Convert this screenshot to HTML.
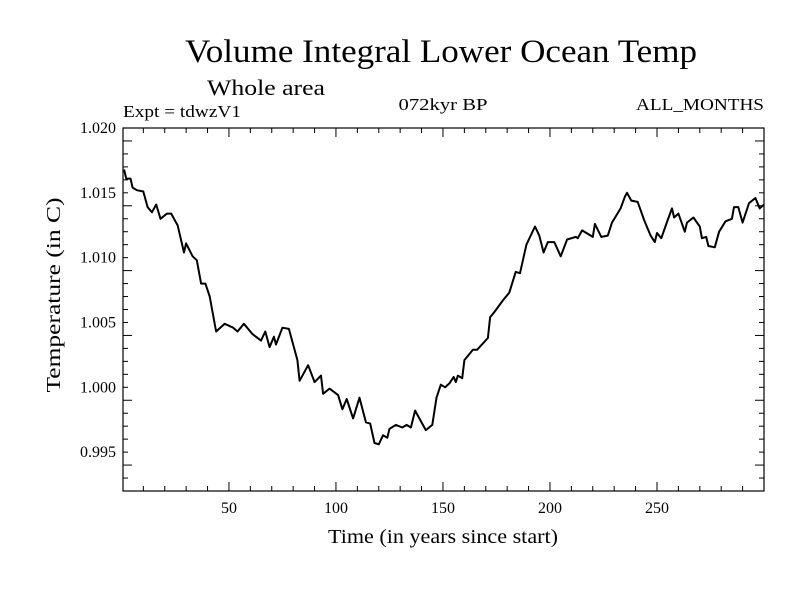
<!DOCTYPE html>
<html><head><meta charset="utf-8"><style>
body{margin:0;background:#fff}
svg text{font-family:"Liberation Serif",serif;fill:#000}
</style></head><body>
<svg id="c" width="800" height="600" xmlns="http://www.w3.org/2000/svg">
<text x="441" y="62" font-size="33" text-anchor="middle" textLength="512" lengthAdjust="spacingAndGlyphs">Volume Integral Lower Ocean Temp</text>
<text x="207" y="95" font-size="22" textLength="118" lengthAdjust="spacingAndGlyphs">Whole area</text>
<text x="123" y="117" font-size="17" textLength="118" lengthAdjust="spacingAndGlyphs">Expt = tdwzV1</text>
<text x="443" y="110" font-size="17" text-anchor="middle" textLength="89" lengthAdjust="spacingAndGlyphs">072kyr BP</text>
<text x="764" y="110" font-size="17" text-anchor="end" textLength="128" lengthAdjust="spacingAndGlyphs">ALL_MONTHS</text>
<text x="443" y="543" font-size="20" text-anchor="middle" textLength="230" lengthAdjust="spacingAndGlyphs">Time (in years since start)</text>
<text transform="translate(60,295) rotate(-90)" font-size="20" text-anchor="middle" textLength="195" lengthAdjust="spacingAndGlyphs">Temperature (in C)</text>
<g id="ticks"></g>
<rect x="123" y="128" width="641" height="363" fill="none" stroke="#000" stroke-width="1.2"/>
<path id="line" fill="none" stroke="#000" stroke-width="2" stroke-linejoin="round"/>
</svg>
<script>
const years=[1,2,4,5,7,10,12,14,16,18,21,23,25,26,29,30,33,35,37,39,41,44,48,52,54,57,61,65,67,69,71,72,75,78,82,83,87,90,93,94,97,101,103,105,108,111,114,116,118,120,122,124,125,128,131,133,135,137,142,145,147,149,151,153,155,156,157,159,160,164,166,171,172,174,178,181,184,186,189,193,195,197,199,202,205,208,212,213,215,220,221,224,227,229,233,235,236,238,241,244,247,249,250,252,255,257,258,260,263,264,267,270,271,273,274,277,279,282,285,286,288,290,293,296,298,300];
const temps=[1.0168,1.0161,1.0161,1.0154,1.0152,1.0151,1.0139,1.0135,1.0141,1.0130,1.0134,1.0134,1.0128,1.0125,1.0104,1.0111,1.0101,1.0098,1.0080,1.0080,1.0070,1.0043,1.0049,1.0046,1.0043,1.0049,1.0041,1.0036,1.0043,1.0031,1.0039,1.0033,1.0046,1.0045,1.0021,1.0005,1.0017,1.0004,1.0009,0.9995,0.9999,0.9994,0.9983,0.9991,0.9976,0.9992,0.9973,0.9972,0.9957,0.9956,0.9963,0.9961,0.9968,0.9971,0.9969,0.9971,0.9969,0.9982,0.9967,0.9971,0.9992,1.0002,1.0000,1.0003,1.0008,1.0004,1.0009,1.0007,1.0021,1.0029,1.0029,1.0038,1.0054,1.0058,1.0067,1.0073,1.0089,1.0088,1.0110,1.0124,1.0117,1.0104,1.0112,1.0112,1.0101,1.0114,1.0116,1.0115,1.0121,1.0116,1.0126,1.0116,1.0117,1.0127,1.0138,1.0147,1.0150,1.0144,1.0143,1.0129,1.0117,1.0112,1.0119,1.0115,1.0129,1.0138,1.0131,1.0134,1.0120,1.0127,1.0131,1.0124,1.0115,1.0116,1.0109,1.0108,1.0120,1.0128,1.0130,1.0139,1.0139,1.0127,1.0142,1.0146,1.0138,1.0141];
const xTicks=[50,100,150,200,250];
const yTicks=["0.995","1.000","1.005","1.010","1.015","1.020"];
const X0=123,X1=764,Y0=128,Y1=491,xmin=0.5,xmax=300,ymin=0.992,ymax=1.020;
const sx=v=>X0+(v-xmin)/(xmax-xmin)*(X1-X0);
const sy=v=>Y1-(v-ymin)/(ymax-ymin)*(Y1-Y0);
const NS="http://www.w3.org/2000/svg";
const g=document.getElementById('ticks');
function ln(x1,y1,x2,y2){const l=document.createElementNS(NS,'line');l.setAttribute('x1',x1);l.setAttribute('y1',y1);l.setAttribute('x2',x2);l.setAttribute('y2',y2);l.setAttribute('stroke','#000');


g.appendChild(l);}
function tx(x,y,s,a){const t=document.createElementNS(NS,'text');t.setAttribute('x',x);t.setAttribute('y',y);t.setAttribute('font-size','16');t.setAttribute('text-anchor',a);t.textContent=s;


g.appendChild(t);}
for(let v=10;v<=300;v+=10){const x=sx(v),L=v%50===0?9:5;ln(x,Y1,x,Y1-L);ln(x,Y0,x,Y0+L);}
xTicks.forEach(v=>tx(sx(v),513,String(v),'middle'));
for(let i=0;i<=28;i++){const v=ymin+i*0.001,y=sy(v),L=(i+3)%5===0?9:5;ln(X0,y,X0+L,y);ln(X1,y,X1-L,y);}
yTicks.forEach(s=>tx(116,sy(parseFloat(s))+5,s,'end'));
document.getElementById('line').setAttribute('d',years.map((v,i)=>(i?'L':'M')+sx(v).toFixed(1)+','+sy(temps[i]).toFixed(1)).join(''));
</script>
</body></html>
